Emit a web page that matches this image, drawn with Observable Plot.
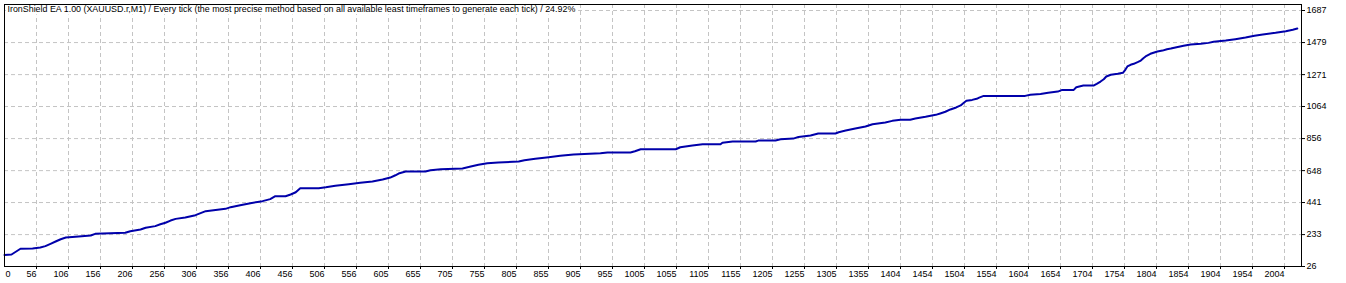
<!DOCTYPE html>
<html><head><meta charset="utf-8">
<script src="https://cdn.jsdelivr.net/npm/d3@7"></script>
<script src="https://cdn.jsdelivr.net/npm/@observablehq/plot@0.6"></script>
<style>
html,body{margin:0;padding:0;background:#fff;}
#chart svg{display:block;}
</style></head><body><div id="chart"></div>
<script>
const title = "IronShield EA 1.00 (XAUUSD.r,M1) / Every tick (the most precise method based on all available least timeframes to generate each tick) / 24.92%";

const trades = [0,11,25,44,56,64,72,80,88,96,
116,135,142,189,197,213,221,236,244,252,
260,268,283,299,307,315,346,354,369,385,
404,416,424,440,448,456,463,492,503,518,
539,557,576,592,604,612,617,628,659,667,
683,717,730,742,756,773,805,814,831,852,
870,891,933,944,980,987,996,1051,1058,1077,
1093,1121,1124,1140,1176,1180,1207,1215,1235,1243,
1262,1274,1301,1306,1317,1332,1348,1359,1379,1390,
1403,1418,1426,1442,1458,1465,1473,1481,1490,1497,
1501,1506,1515,1522,1526,1533,1598,1606,1622,1634,
1649,1656,1674,1678,1689,1705,1710,1716,1721,1725,
1732,1743,1751,1755,1758,1763,1768,1774,1779,1783,
1788,1794,1805,1813,1820,1826,1835,1846,1857,1873,
1885,1893,1912,1927,1943,1957,1970,1990,2006,2017,
2024];

const balance = [101,104,141,143,149,158,173,188,203,214,
221,227,238,245,255,266,277,288,300,310,
324,335,344,359,372,385,400,411,424,437,
450,463,482,482,493,508,534,534,540,550,
560,569,577,590,603,618,629,642,642,651,
657,662,675,686,696,701,707,716,725,735,
744,753,761,766,766,774,787,787,800,811,
819,819,829,837,837,843,843,852,856,867,
876,889,889,897,908,921,934,949,960,971,
978,978,986,997,1010,1019,1030,1045,1058,1071,
1085,1101,1107,1114,1122,1133,1133,1140,1146,1153,
1161,1172,1172,1189,1200,1200,1211,1226,1241,1259,
1270,1276,1283,1304,1324,1335,1341,1352,1362,1377,
1393,1406,1421,1427,1436,1440,1449,1458,1466,1471,
1477,1484,1492,1501,1512,1523,1531,1542,1553,1562,
1570];

const xTickLabels = ["0","56","106","156","206","256","306","356","406","456","506","556","605","655","705","755","805","855","905","955","1005","1055","1105","1155","1205","1255","1305","1355","1404","1454","1504","1554","1604","1654","1704","1754","1804","1854","1904","1954","2004"];
const xTickStep = 50.1;
const yTickLabels = ["26","233","441","648","856","1064","1271","1479","1687"];
const xDomain = [0, 2030.6];
const yDomain = [26, 1726];

const data = trades.map((t, i) => ({trade: t, balance: balance[i]}));
const xTicks = xTickLabels.map((_, i) => i * xTickStep);
const xLabelOf = new Map(xTicks.map((v, i) => [v, xTickLabels[i]]));
const yTicks = yTickLabels.map(Number);

const grid = {stroke: "#c4c4c4", strokeOpacity: 1, strokeWidth: 1, strokeDasharray: "4,3"};
const font = "'Liberation Sans', Arial, sans-serif";

const chart = Plot.plot({
  width: 1346,
  height: 283,
  marginLeft: 4,
  marginRight: 45,
  marginTop: 4,
  marginBottom: 17,
  style: {fontFamily: font, fontSize: "9px", background: "#fff", color: "#000"},
  x: {domain: xDomain, label: null},
  y: {domain: yDomain, label: null},
  marks: [
    Plot.gridX(xTicks.slice(1), grid),
    Plot.gridY(yTicks.slice(1), grid),
    Plot.line(data, {x: "trade", y: "balance", stroke: "#0000aa", strokeWidth: 2}),
    Plot.text([title], {frameAnchor: "top-left", dx: 3, dy: 1, lineAnchor: "top", textAnchor: "start",
      fill: "#000", stroke: "#fff", strokeWidth: 5, fontSize: 8.9}),
    Plot.frame({stroke: "#000", strokeWidth: 1}),
    Plot.axisY(yTicks, {anchor: "right", label: null, tickSize: 3, tickPadding: 2, fontSize: 9, stroke: "#000", fill: "#000",
      tickFormat: (d) => yTickLabels[yTicks.indexOf(d)]}),
    Plot.axisX(xTicks.slice(1), {anchor: "bottom", label: null, tickSize: 3, tickPadding: 1, textAnchor: "end", dx: 0,
      fontSize: 9, stroke: "#000", fill: "#000", tickFormat: (d) => xLabelOf.get(d)}),
    Plot.axisX([xTicks[0]], {anchor: "bottom", label: null, tickSize: 0, tickPadding: 4, textAnchor: "start", dx: 1,
      fontSize: 9, fill: "#000", tickFormat: (d) => xLabelOf.get(d)})
  ]
});
document.getElementById("chart").appendChild(chart);
</script>
</body></html>
